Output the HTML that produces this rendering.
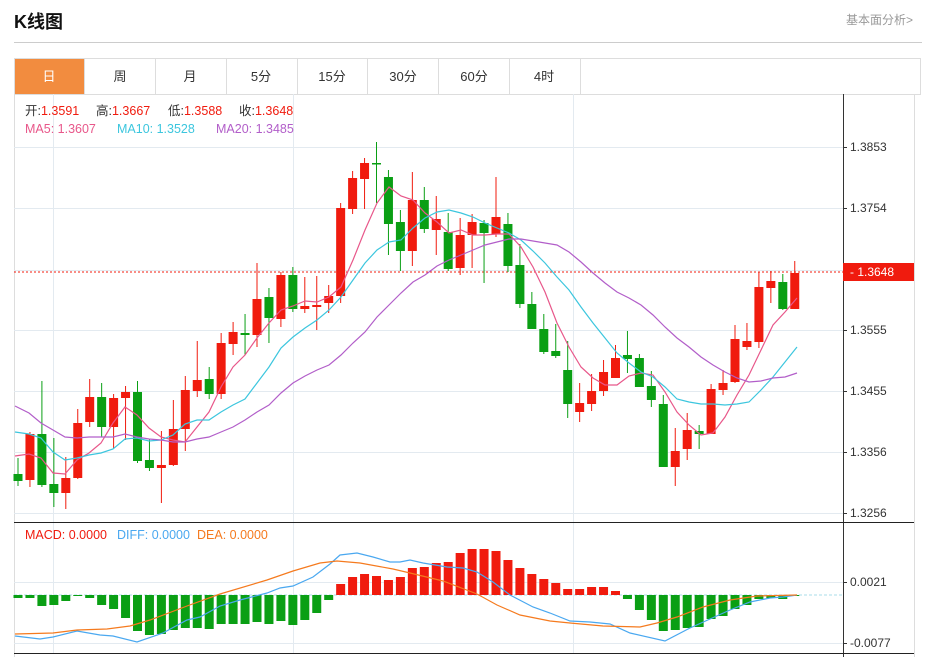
<!DOCTYPE html>
<html><head><meta charset="utf-8"><style>
body{margin:0;background:#fff;width:932px;height:657px;overflow:hidden;font-family:"Liberation Sans","Noto Sans CJK SC",sans-serif;}
svg{position:absolute;left:0;top:0}
</style></head><body>
<svg id="s" width="932" height="657" xmlns="http://www.w3.org/2000/svg" font-family="Liberation Sans, Noto Sans CJK SC, sans-serif">
<text x="14" y="28" font-size="18" font-weight="bold" fill="#111">K线图</text>
<text x="913" y="24" font-size="12" fill="#999" text-anchor="end">基本面分析&gt;</text>
<line x1="14" y1="42.5" x2="922" y2="42.5" stroke="#ccc"/>
<rect x="14.5" y="58.5" width="906" height="36" fill="#fff" stroke="#ddd"/>
<rect x="15" y="59" width="69" height="35" fill="#f28c3f"/>
<g stroke="#ddd"><line x1="84.5" y1="59" x2="84.5" y2="94"/><line x1="155.5" y1="59" x2="155.5" y2="94"/><line x1="226.5" y1="59" x2="226.5" y2="94"/><line x1="297.5" y1="59" x2="297.5" y2="94"/><line x1="367.5" y1="59" x2="367.5" y2="94"/><line x1="438.5" y1="59" x2="438.5" y2="94"/><line x1="509.5" y1="59" x2="509.5" y2="94"/><line x1="580.5" y1="59" x2="580.5" y2="94"/></g>
<g font-size="13" text-anchor="middle" fill="#333"><text x="49" y="81" fill="#fff">日</text><text x="120" y="81">周</text><text x="190" y="81">月</text><text x="261" y="81">5分</text><text x="332" y="81">15分</text><text x="403" y="81">30分</text><text x="474" y="81">60分</text><text x="544" y="81">4时</text></g>
<line x1="14.5" y1="94" x2="14.5" y2="657" stroke="#ddd"/>
<line x1="914.5" y1="94" x2="914.5" y2="657" stroke="#ddd"/>
<g id="grid" stroke="#e3eaf0"></g>
<line x1="14" y1="272" x2="843" y2="272" stroke="#f01b0e" stroke-dasharray="2,2"/>
<g id="c"></g>
<line x1="843.5" y1="94" x2="843.5" y2="657" stroke="#333"/>
<line x1="14" y1="522.5" x2="914" y2="522.5" stroke="#222"/>
<line x1="14" y1="653.5" x2="914" y2="653.5" stroke="#222"/>
<g id="ax" font-size="12" fill="#333"></g>
<rect x="843" y="263" width="71" height="18" fill="#f01b0e"/>
<text x="850" y="276" font-size="12" fill="#fff">- 1.3648</text>
<g font-size="12.5">
<text x="25" y="115" fill="#333">开:<tspan fill="#f01b0e">1.3591</tspan></text>
<text x="96" y="115" fill="#333">高:<tspan fill="#f01b0e">1.3667</tspan></text>
<text x="168" y="115" fill="#333">低:<tspan fill="#f01b0e">1.3588</tspan></text>
<text x="239" y="115" fill="#333">收:<tspan fill="#f01b0e">1.3648</tspan></text>
<text x="25" y="133" fill="#e8578a">MA5: 1.3607</text>
<text x="117" y="133" fill="#3cc6de">MA10: 1.3528</text>
<text x="216" y="133" fill="#b25ec9">MA20: 1.3485</text>
<text x="25" y="539" fill="#f01b0e">MACD: 0.0000</text>
<text x="117" y="539" fill="#4aa8f0">DIFF: 0.0000</text>
<text x="197" y="539" fill="#f57a1e">DEA: 0.0000</text></g>
</svg>
<script>
var NS="http://www.w3.org/2000/svg",s=document.getElementById('c');
function el(t,a,p){var e=document.createElementNS(NS,t);for(var k in a)e.setAttribute(k,a[k]);(p||s).appendChild(e);return e;}
var g=document.getElementById('grid');
[147,208,270,330,391,452,513,582,643].forEach(function(y){el('line',{x1:14,x2:843,y1:y+.5,y2:y+.5},g)});
[53,293,573].forEach(function(x){el('line',{x1:x+.5,x2:x+.5,y1:94,y2:653},g)});
var ax=document.getElementById('ax');
[[147,'1.3853'],[208,'1.3754'],[330,'1.3555'],[391,'1.3455'],[452,'1.3356'],[513,'1.3256'],[582,'0.0021'],[643,'-0.0077']].forEach(function(a){el('line',{x1:843,x2:847,y1:a[0]+.5,y2:a[0]+.5,stroke:'#333'},ax);var t=el('text',{x:850,y:a[0]+4},ax);t.textContent=a[1];});
el('line',{x1:14,x2:843,y1:595,y2:595,stroke:'#a8dcea','stroke-dasharray':'3,2'});
var C=[['g',474,481,458,486],['r',434,480,432,487],['g',434,485,381,487],['g',484,493,438,507],['r',478,493,457,509],['r',423,478,409,479],['r',397,422,379,427],['g',397,427,383,437],['r',398,427,394,448],['r',392,398,386,440],['g',392,461,381,463],['g',460,468,439,471],['r',465,468,431,503],['r',429,465,400,466],['r',390,429,376,451],['r',380,391,341,397],['g',379,394,367,399],['r',343,394,333,399],['r',332,344,322,355],['g',333,335,314,355],['r',299,335,263,347],['g',297,318,288,343],['r',275,319,272,327],['g',275,309,267,312],['r',306,309,277,313],['r',305,307,276,330],['r',296,303,285,313],['r',208,296,203,303],['r',178,209,171,214],['r',163,179,158,209],['g',163,164,142,203],['g',177,224,170,255],['g',222,251,210,271],['r',200,251,172,266],['g',200,229,187,233],['r',219,230,196,255],['g',232,269,213,271],['r',235,268,218,275],['r',222,235,214,268],['g',223,233,220,283],['r',217,234,177,237],['g',224,266,213,272],['g',265,304,244,308],['g',304,329,292,329],['g',329,352,314,354],['g',351,356,324,358],['g',370,404,341,418],['r',403,412,383,422],['r',391,404,374,411],['r',372,391,360,396],['r',358,378,345,378],['g',355,359,331,373],['g',358,387,354,387],['g',386,400,371,407],['g',404,467,395,467],['r',451,467,428,486],['r',430,449,413,460],['g',431,434,425,449],['r',389,434,384,434],['r',383,390,370,395],['r',339,382,325,383],['r',341,347,323,350],['r',287,342,272,348],['r',281,288,271,303],['g',282,309,274,310],['r',273,309,261,309]];
var M=[598,598,606,605,601,596,598,605,609,618,631,635,634,630,628,628,629,624,624,624,622,624,621,625,620,613,600,584,577,574,576,580,577,568,567,563,562,553,549,549,551,560,568,574,579,583,589,589,587,587,591,599,610,620,631,630,628,627,619,616,609,605,599,598,599,596];
C.forEach(function(c,i){var x=18+i*11.95,col=c[0]=='r'?'#f01b0e':'#0a9f14';
el('line',{x1:x,x2:x,y1:c[3],y2:c[4],stroke:col,'stroke-width':1});
el('rect',{x:x-4.5,y:c[1],width:9,height:Math.max(1.5,c[2]-c[1]),fill:col});
var m=M[i],top=Math.min(m,595),h=Math.abs(m-595);if(h>0)el('rect',{x:x-4.5,y:top,width:9,height:h,fill:m<595?'#f01b0e':'#0a9f14'});});
function pl(pts,col){el('polyline',{points:pts,fill:'none',stroke:col,'stroke-width':1.2});}
pl("15,456 29,454 41,458 53,473 65,474 77,460 89,453 101,443 113,423 125,407 137,415 149,428 161,437 173,440 185,442 197,427 209,412 221,387 233,367 245,355 257,338 269,323 281,310 293,306 305,301 317,302 329,297 341,287 353,260 365,230 377,203 389,187 401,196 413,200 425,213 437,222 449,233 461,230 473,235 485,235 497,234 509,234 521,247 533,267 545,292 557,323 569,347 581,367 593,378 605,385 617,385 629,376 641,373 653,375 665,392 677,412 689,425 701,435 713,433 725,417 737,395 749,375 761,350 773,325 785,312 797,298","#e8578a");
pl("15,432 29,434 41,438 53,452 65,460 77,458 89,455 101,453 113,449 125,439 137,438 149,441 161,440 173,435 185,424 197,420 209,420 221,412 233,405 245,399 257,383 269,367 281,348 293,337 305,328 317,320 329,310 341,297 353,280 365,263 377,250 389,242 401,240 413,228 425,218 437,212 449,210 461,213 473,217 485,223 497,228 509,233 521,240 533,251 545,263 557,277 569,290 581,307 593,323 605,338 617,353 629,363 641,372 653,377 665,387 677,399 689,402 701,404 713,404 725,405 737,404 749,402 761,390 773,377 785,362 797,347","#3cc6de");
pl("15,406 29,413 41,423 53,430 65,437 77,438 89,437 101,437 113,437 125,434 137,437 149,439 161,440 173,442 185,442 197,439 209,437 221,432 233,427 245,420 257,412 269,405 281,393 293,383 305,376 317,370 329,365 341,355 353,343 365,332 377,317 389,305 401,293 413,282 425,275 437,266 449,260 461,255 473,250 485,245 497,242 509,239 521,239 533,241 545,243 557,245 569,252 581,262 593,273 605,283 617,292 629,298 641,305 653,315 665,327 677,338 689,347 701,357 713,365 725,372 737,378 749,382 761,381 773,378 785,377 797,373","#b25ec9");
pl("15,636 40,639 53,637 77,631 100,635 113,636 137,642 163,633 187,620 200,617 220,606 240,600 267,593 280,588 293,586 313,577 330,564 340,555 357,553 373,557 390,562 400,562 410,560 423,563 447,567 463,568 477,572 493,582 510,595 533,607 550,613 570,621 590,622 610,624 630,633 665,641 690,628 710,619 730,610 750,602 770,598 783,597 797,595","#4aa8f0");
pl("15,634 53,633 77,630 107,629 130,626 150,620 187,606 220,594 267,580 293,571 320,563 337,561 360,563 393,569 410,573 443,581 477,594 497,605 520,615 550,621 570,623 603,626 640,627 657,623 677,617 703,607 730,600 757,596 797,595","#f57a1e");
</script>
</body></html>
